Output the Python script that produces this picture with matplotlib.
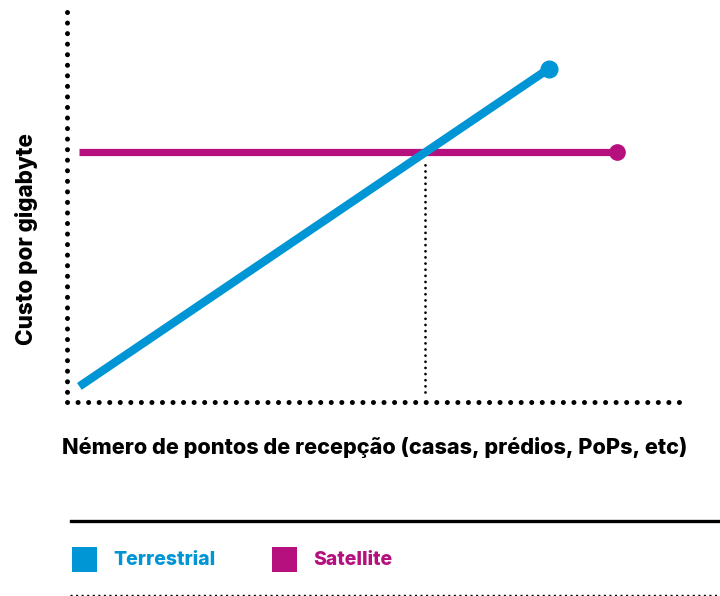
import matplotlib
matplotlib.use("Agg")
import matplotlib.pyplot as plt
from matplotlib.lines import Line2D
from matplotlib.patches import Rectangle

# Data
terrestrial_x = [2, 78]
terrestrial_y = [4, 85.5]
satellite_x = [2, 89]
satellite_y = [64, 64]
series_names = ["Terrestrial", "Satellite"]
x_label = "Némero de pontos de recepção (casas, prédios, PoPs, etc)"
y_label = "Custo por gigabyte"

BLUE = "#0095D5"
MAG = "#B5107E"
W, H = 720, 596

plt.rcParams['font.family'] = ['Inter', 'DejaVu Sans']
fig = plt.figure(figsize=(W/100, H/100), dpi=100)
ax = fig.add_axes([67/W, 1-402/H, 618/W, 390/H])
ax.set_xlim(0, 100)
ax.set_ylim(0, 100)
for s in ax.spines.values():
    s.set_visible(False)
ax.set_xticks([])
ax.set_yticks([])

# dotted axes
ax.plot([0, 0], [1, 0], transform=ax.transAxes, color='black', lw=3.6,
        linestyle=(0, (0.01, 2.1)), dash_capstyle='round', clip_on=False)
ax.plot([0, 1.003], [0, 0], transform=ax.transAxes, color='black', lw=3.6,
        linestyle=(0, (0.01, 2.1)), dash_capstyle='round', clip_on=False)

# crossing point
slope = (terrestrial_y[1]-terrestrial_y[0])/(terrestrial_x[1]-terrestrial_x[0])
x_cross = terrestrial_x[0] + (satellite_y[0]-terrestrial_y[0])/slope
ax.plot([x_cross, x_cross], [2.5, satellite_y[0]-2.5], color='black', lw=2.0,
        linestyle=(0, (0.01, 2.2)), dash_capstyle='round')

ax.plot(satellite_x, satellite_y, color=MAG, lw=5.2, solid_capstyle='butt', zorder=3)
ax.plot(satellite_x[-1:], satellite_y[-1:], 'o', color=MAG, ms=11, zorder=3)
ax.plot(terrestrial_x, terrestrial_y, color=BLUE, lw=6, solid_capstyle='butt', zorder=4)
ax.plot(terrestrial_x[-1:], terrestrial_y[-1:], 'o', color=BLUE, ms=12, zorder=4)

fig.text(375/W, 1-447/H, x_label, ha='center', va='center', fontsize=15.6,
         fontweight='heavy', color='black')
fig.text(27/W, 1-239/H, y_label, ha='center', va='center', rotation=90,
         fontsize=16.2, fontweight='heavy', color='black')

# legend area
fig.add_artist(Line2D([71/W, 1], [1-521/H, 1-521/H], transform=fig.transFigure,
                      color='black', lw=2.4))
fig.add_artist(Line2D([70/W, 1], [1-595/H, 1-595/H], transform=fig.transFigure,
                      color='black', lw=1.0, linestyle=(0, (1.5, 2.5))))
colors = [BLUE, MAG]
sq_x = [72, 272]
for name, c, sx in zip(series_names, colors, sq_x):
    fig.add_artist(Rectangle((sx/W, 1-572/H), 25/W, 25/H, transform=fig.transFigure,
                             facecolor=c, edgecolor='none'))
    fig.text((sx+41)/W, 1-560/H, name, ha='left', va='center', fontsize=14,
             fontweight='heavy', color=c)

fig.savefig("out.png", dpi=100)
